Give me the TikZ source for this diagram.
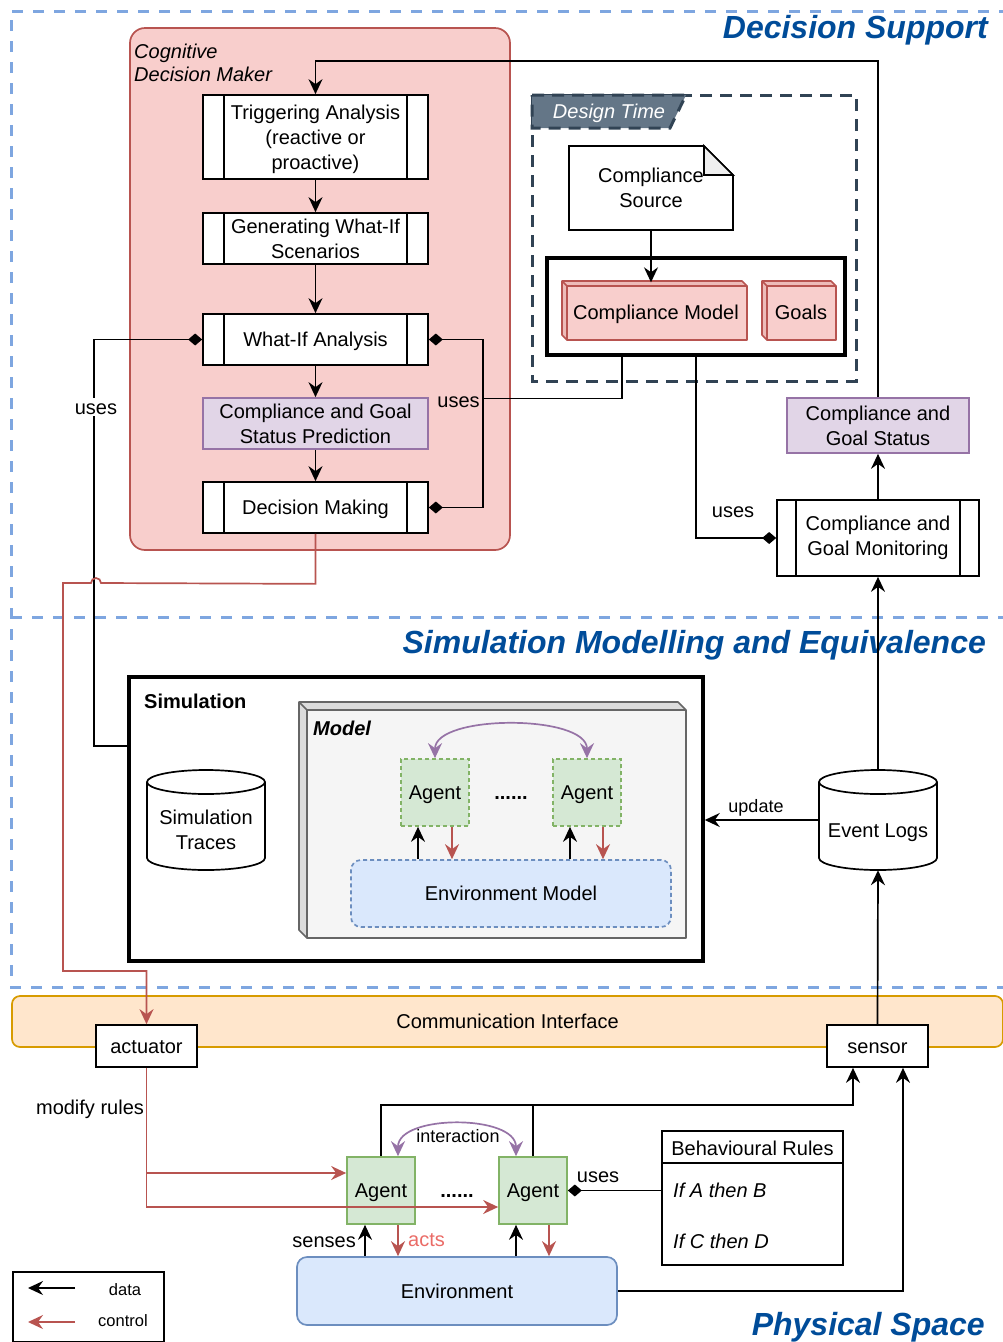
\documentclass[tikz,border=0pt]{standalone}
\usepackage{fontspec}
\setmainfont{Liberation Sans}
\usetikzlibrary{arrows.meta,calc}

\definecolor{pinkF}{HTML}{F8CECC}
\definecolor{pinkS}{HTML}{B85450}
\definecolor{pinkD}{HTML}{EDBCB9}
\definecolor{purpF}{HTML}{E1D5E7}
\definecolor{purpS}{HTML}{9673A6}
\definecolor{greenF}{HTML}{D5E8D4}
\definecolor{greenS}{HTML}{82B366}
\definecolor{blueF}{HTML}{DAE8FC}
\definecolor{blueS}{HTML}{6C8EBF}
\definecolor{orangeF}{HTML}{FFE6CC}
\definecolor{orangeS}{HTML}{D79B00}
\definecolor{grayF}{HTML}{F5F5F5}
\definecolor{grayD}{HTML}{DCDCDC}
\definecolor{grayS}{HTML}{666666}
\definecolor{regionS}{HTML}{7EA6E0}
\definecolor{dtS}{HTML}{314354}
\definecolor{dtF}{HTML}{647687}
\definecolor{titleC}{HTML}{004C99}
\definecolor{actsC}{HTML}{EA6B66}
\definecolor{foldF}{HTML}{EEEEEE}

\newcommand{\fm}{\fontsize{20}{25}\selectfont}
\newcommand{\fsm}{\fontsize{18}{22}\selectfont}
\newcommand{\fxs}{\fontsize{16.5}{20}\selectfont}
\newcommand{\ftitle}{\fontsize{32}{38}\selectfont\bfseries\itshape}

% vertical bars of a "process" box
\newcommand{\sidebars}[2]{\draw[line width=1.7pt] ([xshift=#2]#1.north west) -- ([xshift=#2]#1.south west) ([xshift=-#2]#1.north east) -- ([xshift=-#2]#1.south east);}

% 3D box: x1 y1 x2 y2 depth front strip stroke
\newcommand{\cubeshape}[8]{%
  \fill[#7] (#1,#2) -- ({#3-#5},#2) -- (#3,{#2+#5}) -- (#3,#4) -- ({#1+#5},#4) -- (#1,{#4-#5}) -- cycle;
  \fill[#6] ({#1+#5},{#2+#5}) rectangle (#3,#4);
  \draw[#8, line width=1.7pt, line join=round] (#1,#2) -- ({#3-#5},#2) -- (#3,{#2+#5}) -- (#3,#4) -- ({#1+#5},#4) -- (#1,{#4-#5}) -- cycle
    ({#1+#5},#4) -- ({#1+#5},{#2+#5}) -- (#3,{#2+#5})
    (#1,#2) -- ({#1+#5},{#2+#5});
}

% upright cylinder 118 x 100 centred at (cx,cy)
\newcommand{\cylshape}[2]{%
  \draw[line width=1.7pt, fill=white] ({#1-59},{#2-38}) -- ({#1-59},{#2+38})
    arc[start angle=180,end angle=360,x radius=59pt,y radius=12pt] -- ({#1+59},{#2-38})
    arc[start angle=0,end angle=180,x radius=59pt,y radius=12pt] -- cycle;
  \draw[line width=1.7pt] ({#1-59},{#2-38}) arc[start angle=180,end angle=360,x radius=59pt,y radius=12pt];
}

\begin{document}
\begin{tikzpicture}[x=1pt,y=-1pt,
  lw/.style={line width=1.7pt},
  cls/.tip={Stealth[length=15pt,width=14pt,inset=5pt]},
  arr/.style={lw,-cls},
  diam/.style={lw,-{Diamond[length=14pt,width=12pt]}},
  ctrl/.style={lw,draw=pinkS,-cls},
  purp/.style={lw,draw=purpS,cls-cls},
  one/.style={text height=15pt, text depth=0.6pt},
  txt/.style={font=\fm, align=center, inner sep=0pt},
  lbl/.style={font=\fm, inner sep=1pt, one},
  proc/.style={txt, draw, lw, fill=white, minimum width=225pt, minimum height=51pt},
  pbox/.style={txt, draw=purpS, lw, fill=purpF},
  plain/.style={txt, draw, lw, fill=white},
  simagent/.style={txt, one, draw=greenS, fill=greenF, lw, dashed, dash pattern=on 4pt off 3pt, minimum width=68pt, minimum height=67pt},
  physagent/.style={txt, one, draw=greenS, fill=greenF, lw, minimum width=68pt, minimum height=67pt},
  envbox/.style={txt, one, draw=blueS, fill=blueF, lw, rounded corners=10pt, minimum width=320pt, minimum height=68pt},
  region/.style={regionS, line width=3pt, dash pattern=on 11pt off 10pt},
  title/.style={font=\ftitle, text=titleC, anchor=base east, inner sep=0pt}
]
\useasboundingbox (0,0) rectangle (1003,1342);

% ---------- layers ----------
\draw[region] (1010,11) -- (11,11) -- (11,987) -- (1010,987);
\draw[region] (11,617) -- (1010,617);

\node[title] (t1) at (988,38) {Decision Support};
\node[title] (t2) at (986,653) {Simulation Modelling and Equivalence};
\node[title] (t3) at (985,1335) {Physical Space};

% ---------- cognitive decision maker ----------
\node[draw=pinkS, fill=pinkF, lw, rounded corners=15pt, minimum width=380pt, minimum height=522pt, inner sep=0pt] (cdm) at (320,289) {};
\node[font=\fontsize{20}{23}\selectfont\itshape, align=left, anchor=north west, inner sep=0pt] (cdmlbl) at (134,44) {Cognitive\\Decision Maker};

\node[proc, minimum height=84pt] (trig) at (315.5,137) {\rule{0pt}{18.5pt}Triggering Analysis\\(reactive or\\proactive)};
\node[proc] (gen) at (315.5,238.5) {Generating What-If\\Scenarios};
\node[proc, one] (wia) at (315.5,339.5) {What-If Analysis};
\node[pbox, minimum width=225pt, minimum height=51pt] (pred) at (315.5,423.5) {Compliance and Goal\\Status Prediction};
\node[proc, one] (dm) at (315.5,507.5) {Decision Making};
\sidebars{trig}{22pt}
\sidebars{gen}{22pt}
\sidebars{wia}{22pt}
\sidebars{dm}{22pt}

% ---------- design time ----------
\draw[dtS, line width=3pt, dash pattern=on 12pt off 8pt] (532,95) rectangle (856,381);
\filldraw[fill=dtF, draw=dtS, line width=3pt, dash pattern=on 12pt off 8pt] (532,95) -- (686,95) -- (670,128) -- (532,128) -- cycle;
\node[font=\fm\itshape, text=white, inner sep=0pt, one] (dtlbl) at (609,111) {Design Time};

\draw[lw, fill=white] (569,146) -- (704,146) -- (733,175) -- (733,230) -- (569,230) -- cycle;
\filldraw[lw, fill=foldF] (704,146) -- (704,175) -- (733,175) -- cycle;
\node[txt, minimum width=164pt, minimum height=84pt] (cs) at (651,188) {Compliance\\Source};

\node[draw, line width=3.5pt, minimum width=298pt, minimum height=97pt, inner sep=0pt] (grp) at (696,306.5) {};
\cubeshape{562}{281}{747}{340}{5}{pinkF}{pinkD}{pinkS}
\cubeshape{762}{281}{836}{340}{5}{pinkF}{pinkD}{pinkS}
\node[txt, one, minimum width=185pt, minimum height=59pt] (cm) at (656,312) {Compliance Model};
\node[txt, one, minimum width=74pt, minimum height=59pt] (gl) at (801,312) {Goals};

% ---------- monitoring ----------
\node[pbox, minimum width=182pt, minimum height=55pt] (cgs) at (878,425.5) {Compliance and\\Goal Status};
\node[plain, minimum width=202pt, minimum height=76pt] (cgm) at (878,538) {Compliance and\\Goal Monitoring};
\sidebars{cgm}{20pt}

% ---------- simulation ----------
\node[draw, line width=3.5pt, fill=white, minimum width=574pt, minimum height=284pt, inner sep=0pt] (sim) at (416,819) {};
\node[font=\fm\bfseries, anchor=west, inner sep=0pt, one] (simlbl) at (144,701) {Simulation};
\cylshape{206}{820}
\node[txt, minimum width=118pt] (trc) at (206,830) {Simulation\\Traces};

\cubeshape{299}{702}{686}{938}{8}{grayF}{grayD}{grayS}
\node[minimum width=387pt, minimum height=236pt, inner sep=0pt] (mdl) at (492.5,820) {};
\node[font=\fm\bfseries\itshape, anchor=west, inner sep=0pt, one] (mdllbl) at (313,728) {Model};

\node[simagent] (ma1) at (435,792.5) {Agent};
\node[simagent] (ma2) at (587,792.5) {Agent};
\node[font=\fm\bfseries, anchor=base, inner sep=0pt] (mdots) at (511,799) {......};
\node[envbox, dashed, dash pattern=on 4pt off 3pt, minimum height=67pt] (envm) at (511,893.5) {Environment Model};

\cylshape{878}{820}
\node[txt, text height=35pt, text depth=0.6pt, minimum width=118pt, minimum height=100pt] (evl) at (878,820) {Event Logs};

% ---------- communication interface ----------
\node[txt, one, draw=orangeS, fill=orangeF, lw, rounded corners=8pt, minimum width=991pt, minimum height=51pt] (ci) at (507.5,1021.5) {Communication Interface};
\node[plain, one, minimum width=101pt, minimum height=42pt] (act) at (146.5,1046) {actuator};
\node[plain, one, minimum width=101pt, minimum height=42pt] (sen) at (877.5,1046) {sensor};

% ---------- physical space ----------
\node[physagent] (pa1) at (381,1190.5) {Agent};
\node[physagent] (pa2) at (533,1190.5) {Agent};
\node[font=\fm\bfseries, anchor=base, inner sep=0pt] (pdots) at (457,1197) {......};
\node[envbox] (env) at (457,1291) {Environment};

\node[draw, lw, fill=white, minimum width=181pt, minimum height=134pt, inner sep=0pt] (br) at (752.5,1198) {};
\draw[lw] ([yshift=-33pt]br.north west) -- ([yshift=-33pt]br.north east);
\node[txt, one] (brh) at (752.5,1148) {Behavioural Rules};
\node[font=\fm\itshape, anchor=west, inner sep=0pt, one] (br1) at (673,1190) {If A then B};
\node[font=\fm\itshape, anchor=west, inner sep=0pt, one] (br2) at (673,1241) {If C then D};

% ---------- legend ----------
\node[draw, lw, minimum width=151pt, minimum height=70pt, anchor=north west, inner sep=0pt] (leg) at (12,1271) {};
\coordinate (lda) at (75,1288);
\coordinate (ldb) at (28,1288);
\coordinate (lca) at (75,1322);
\coordinate (lcb) at (28,1322);
\draw[arr] (lda) -- (ldb);
\draw[ctrl] (lca) -- (lcb);
\node[font=\fxs, inner sep=0pt] (ldata) at (125,1290) {data};
\node[font=\fxs, inner sep=0pt] (lctrl) at (123,1321) {control};

% ---------- connectors: decision support ----------
\draw[arr] (cgs.north) |- ([yshift=33pt]trig.north) -- (trig.north);
\draw[arr] (trig.south) -- (gen.north);
\draw[arr] (gen.south) -- (wia.north);
\draw[arr] (wia.south) -- (pred.north);
\draw[arr] (pred.south) -- (dm.north);

\draw[diam] ([yshift=-71pt]sim.north west) -- ++(-33,0) |- (wia.west);
\node[lbl, fill=white] (uses1) at (96,407) {uses};

\coordinate (uj) at (483,398.5);
\draw[lw] ([xshift=-74pt]grp.south) |- (uj);
\draw[diam] (uj) |- (wia.east);
\draw[diam] (uj) |- (dm.east);
\node[lbl] (uses2) at (458.5,400) {uses};

\draw[arr] (cs.south) -- (cs.south |- cm.north);
\draw[diam] (grp.south) |- (cgm.west);
\node[lbl] (uses3) at (733,510) {uses};

\draw[arr] (cgm.north) -- (cgs.south);
\draw[arr] (evl.north) -- (cgm.south);

% ---------- connectors: simulation ----------
\draw[arr] (evl.west) -- (evl.west -| sim.east);
\node[font=\fsm, inner sep=0pt, text height=13.5pt, text depth=0.5pt] (upd) at (756,806) {update};
\draw[arr] (sen.north) -- (evl.south);

\draw[arr] ([xshift=-17pt]ma1.south |- envm.north) -- ([xshift=-17pt]ma1.south);
\draw[ctrl] ([xshift=17pt]ma1.south) -- ([xshift=17pt]ma1.south |- envm.north);
\draw[arr] ([xshift=-17pt]ma2.south |- envm.north) -- ([xshift=-17pt]ma2.south);
\draw[ctrl] ([xshift=16pt]ma2.south) -- ([xshift=16pt]ma2.south |- envm.north);
\draw[purp] (ma1.north) .. controls +(0,-44) and +(0,-44) .. (ma2.north);

% ---------- connectors: physical space ----------
\draw[arr] ([xshift=-16pt]pa1.south |- env.north) -- ([xshift=-16pt]pa1.south);
\draw[ctrl] ([xshift=17pt]pa1.south) -- ([xshift=17pt]pa1.south |- env.north);
\draw[arr] ([xshift=-17pt]pa2.south |- env.north) -- ([xshift=-17pt]pa2.south);
\draw[ctrl] ([xshift=16pt]pa2.south) -- ([xshift=16pt]pa2.south |- env.north);
\node[lbl, anchor=east] (senses) at (357,1240) {senses};
\node[lbl, anchor=west, text=actsC] (acts) at (407,1239) {acts};

\draw[purp] ([xshift=17pt]pa1.north) .. controls +(0,-42) and +(0,-42) .. ([xshift=-17pt]pa2.north);
\node[font=\fsm, inner sep=0pt] (inter) at (458,1136) {interaction};

\draw[arr] (pa1.north) -- ++(0,-51) -| ([xshift=-24.5pt]sen.south);
\draw[lw] (pa2.north) -- ++(0,-51);
\draw[arr] (env.east) -| ([xshift=25.5pt]sen.south);

\draw[ctrl] (act.south) |- ([yshift=17.5pt]pa1.west);
\draw[ctrl] (act.south) |- ([yshift=-16.5pt]pa2.west);
\node[lbl] (modr) at (90,1107) {modify rules};

\draw[diam] (br.west |- pa2.east) -- (pa2.east);
\node[lbl] (uses4) at (598,1175) {uses};

% ---------- control from decision making to actuator ----------
\coordinate (rhop) at (101,583);
\coordinate (rlow) at (63,971);
\draw[ctrl] (dm.south) -- ++(0,50) -- (rhop) arc[start angle=0,end angle=180,radius=5pt] -- (63,583) -- (rlow) -| (act.north);

\end{tikzpicture}
\end{document}
